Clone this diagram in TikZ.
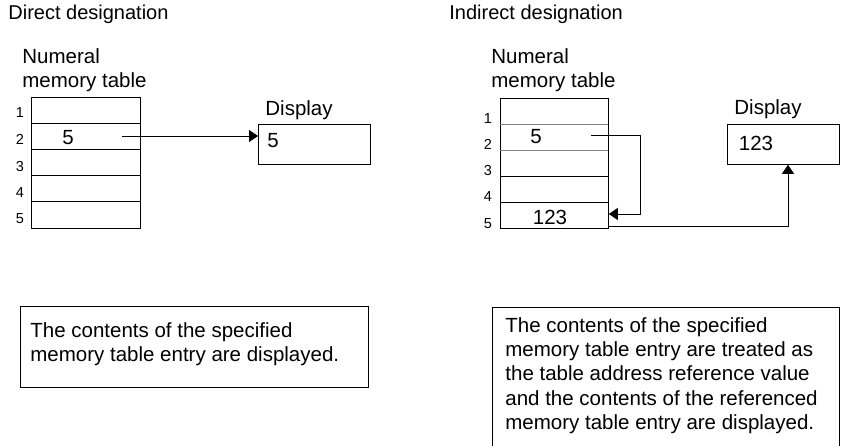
\documentclass[tikz,border=0pt]{standalone}
\usepackage{fontspec}
\setmainfont{Liberation Sans}
\usetikzlibrary{arrows.meta}
\begin{document}
\begin{tikzpicture}[x=1pt,y=-1pt,line width=0.8pt,
  txt/.style={inner sep=0,font=\fontsize{20.5}{24}\selectfont},
  ttl/.style={inner sep=0,anchor=base west,font=\fontsize{20}{23}\selectfont},
  num/.style={inner sep=0,anchor=base,font=\fontsize{14.5}{16}\selectfont},
  tbl/.style={draw,inner sep=0,anchor=north west,minimum width=109pt,minimum height=131pt},
  disp/.style={draw,inner sep=0,anchor=north west,minimum width=112pt,minimum height=40pt},
  arr/.style={-{Triangle[length=9pt,width=12pt]}},
  sep/.style={line width=0.8pt}
]
\useasboundingbox (0,0) rectangle (841,446);

% ---------- Direct designation ----------
\node[ttl] (title1) at (8,20) {Direct designation};
\node[txt,anchor=base west] (nm1a) at (22,64) {Numeral};
\node[txt,anchor=base west] (nm1b) at (22,88) {memory table};
\node[tbl] (t1) at (31,97) {};
\foreach \i in {1,...,4}{\draw[sep] (31,{97+\i*26.2}) -- (140,{97+\i*26.2});}
\node[num] (r1a) at (20,118) {1};
\node[num] (r1b) at (20,145) {2};
\node[num] (r1c) at (20,172) {3};
\node[num] (r1d) at (20,198) {4};
\node[num] (r1e) at (20,224) {5};
\node[txt,anchor=base] (v1) at (68,145) {5};
\node[txt,anchor=base west] (dl1) at (265,116) {Display};
\node[disp] (d1) at (258,124) {};
\node[txt,anchor=base] (dv1) at (273,148) {5};
\coordinate (s1) at (122,136);
\draw[arr] (s1) -- (s1 -| d1.west);

\node[draw,inner sep=0,anchor=north west,minimum width=348pt,minimum height=81pt] (b1) at (20,306) {};
\node[txt,anchor=base west] (b1l1) at (30,338) {The contents of the specified};
\node[txt,anchor=base west] (b1l2) at (30,362) {memory table entry are displayed.};

% ---------- Indirect designation ----------
\node[ttl] (title2) at (449,20) {Indirect designation};
\node[txt,anchor=base west] (nm2a) at (491,64) {Numeral};
\node[txt,anchor=base west] (nm2b) at (491,88) {memory table};
\node[tbl,minimum width=108pt,minimum height=130pt] (t2) at (500,98) {};
\draw[sep,gray] (500,124) -- (608,124);
\draw[sep,gray] (500,150) -- (608,150);
\draw[sep] (500,176) -- (608,176);
\draw[sep] (500,202) -- (608,202);
\node[num] (r2a) at (488,124) {1};
\node[num] (r2b) at (488,150) {2};
\node[num] (r2c) at (488,176) {3};
\node[num] (r2d) at (488,202) {4};
\node[num] (r2e) at (488,229) {5};
\node[txt,anchor=base] (v2) at (536,144) {5};
\node[txt,anchor=base] (v2b) at (550,225) {123};
\node[txt,anchor=base] (dl2) at (768,115) {Display};
\node[disp] (d2) at (727,124) {};
\node[txt,anchor=base] (dv2) at (756,151) {123};
\coordinate (s2) at (591,135);
\coordinate (k2) at (640,135);
\coordinate (e2) at (640,214);
\draw[arr] (s2) -- (k2) -- (e2) -- (e2 -| t2.east);
\coordinate (s3) at (608,226);
\coordinate (k3) at (788,226);
\draw[arr] (s3) -- (k3) -- (k3 |- d2.south);

\coordinate (b2a) at (492,452);
\coordinate (b2b) at (492,307);
\coordinate (b2c) at (839,307);
\coordinate (b2d) at (839,452);
\draw (b2a) -- (b2b) -- (b2c) -- (b2d);
\node[txt,anchor=base west] (b2l1) at (505,333) {The contents of the specified};
\node[txt,anchor=base west] (b2l2) at (505,357) {memory table entry are treated as};
\node[txt,anchor=base west] (b2l3) at (505,381) {the table address reference value};
\node[txt,anchor=base west] (b2l4) at (505,405) {and the contents of the referenced};
\node[txt,anchor=base west] (b2l5) at (505,429) {memory table entry are displayed.};
\end{tikzpicture}
\end{document}
